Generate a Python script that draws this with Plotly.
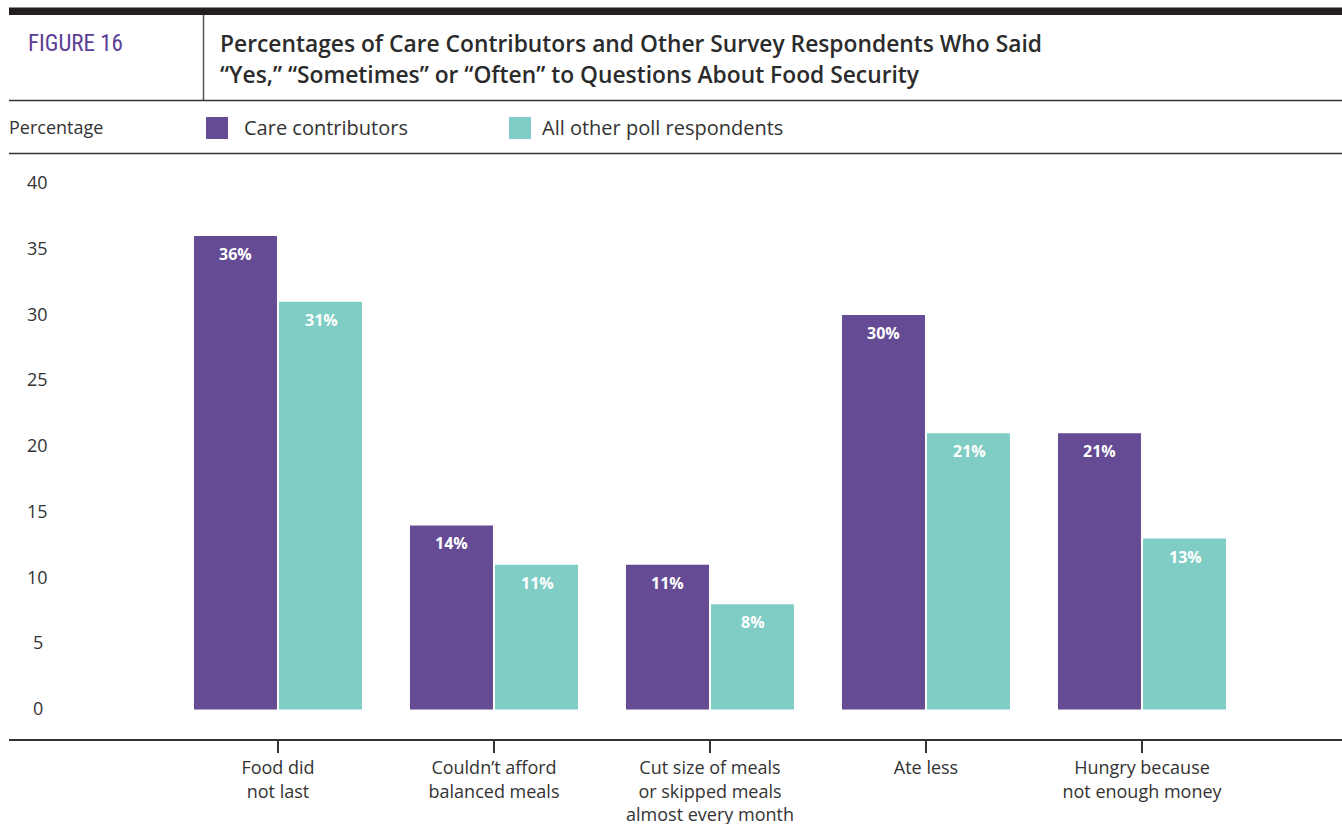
import plotly.graph_objects as go

categories = ["Food did<br>not last", "Couldn’t afford<br>balanced meals",
              "Cut size of meals<br>or skipped meals<br>almost every month",
              "Ate less", "Hungry because<br>not enough money"]
care_contributors = [36, 14, 11, 30, 21]
other_respondents = [31, 11, 8, 21, 13]
y_ticks = [0, 5, 10, 15, 20, 25, 30, 35, 40]
series_names = ["Care contributors", "All other poll respondents"]
title_lines = ["Percentages of Care Contributors and Other Survey Respondents Who Said",
               "“Yes,” “Sometimes” or “Often” to Questions About Food Security"]

PURPLE = "#654A94"
TEAL = "#80CDC5"
TXT = "#333333"
FONT = "'Open Sans', sans-serif"

W, H = 1342, 824
L, R = 9, 0
PLOT_TOP, PLOT_BOTTOM = 153, 739  # screen pixels
T = PLOT_TOP
B = H - PLOT_BOTTOM
PW, PH = W - L - R, H - T - B


def px(x):
    return (x - L) / PW


def py(y):
    return (PLOT_BOTTOM - y) / PH


# axis geometry in screen pixels
cat_step = 216.0
x0_px = 278.0
xr = [(L - x0_px) / cat_step, (W - R - x0_px) / cat_step]
y0_px = 709.5
unit = 13.15
yr = [(y0_px - PLOT_BOTTOM) / unit, (y0_px - PLOT_TOP) / unit]

xs = list(range(len(categories)))
fig = go.Figure()
fig.add_trace(go.Bar(x=xs, y=care_contributors, name=series_names[0],
                     marker=dict(color=PURPLE, line=dict(width=0)), showlegend=False))
fig.add_trace(go.Bar(x=xs, y=other_respondents, name=series_names[1],
                     marker=dict(color=TEAL, line=dict(width=0)), showlegend=False))

annotations = []
off = 43 / cat_step
for i, (a, b) in enumerate(zip(care_contributors, other_respondents)):
    for xv, v in ((i - off, a), (i + off, b)):
        annotations.append(dict(x=xv, y=v, xref="x", yref="y", text=f"<b>{v}%</b>",
                                showarrow=False, yshift=-18, yanchor="middle",
                                font=dict(family=FONT, size=16, color="white")))

for t in y_ticks:
    annotations.append(dict(x=px(37.5), y=t, xref="paper", yref="y", text=str(t),
                            showarrow=False, xanchor="center", yanchor="middle", yshift=1.5,
                            font=dict(family=FONT, size=18, color=TXT)))

# header texts
annotations.append(dict(x=px(26), y=py(43), xref="paper", yref="paper", text="FIGURE 16",
                        showarrow=False, xanchor="left", yanchor="middle",
                        font=dict(family="'Liberation Sans Narrow', 'Roboto Condensed', Roboto, sans-serif",
                                  size=23, color="#5B3E96")))
for k, line in enumerate(title_lines):
    annotations.append(dict(x=px(218), y=py(43 + 31 * k), xref="paper", yref="paper",
                            text=line, showarrow=False, xanchor="left", yanchor="middle",
                            font=dict(family=FONT, size=22.8, weight=600, color="#2b2b2b")))
annotations.append(dict(x=px(7), y=py(127), xref="paper", yref="paper", text="Percentage",
                        showarrow=False, xanchor="left", yanchor="middle",
                        font=dict(family=FONT, size=18, color=TXT)))
annotations.append(dict(x=px(242), y=py(127), xref="paper", yref="paper", text=series_names[0],
                        showarrow=False, xanchor="left", yanchor="middle",
                        font=dict(family=FONT, size=20, color=TXT)))
annotations.append(dict(x=px(540), y=py(127), xref="paper", yref="paper", text=series_names[1],
                        showarrow=False, xanchor="left", yanchor="middle",
                        font=dict(family=FONT, size=20, color=TXT)))

shapes = [
    dict(type="rect", xref="paper", yref="paper", x0=px(9), x1=px(1342), y0=py(15), y1=py(7.5),
         fillcolor="#231F20", line=dict(width=0)),
    dict(type="line", xref="paper", yref="paper", x0=px(203.5), x1=px(203.5), y0=py(15), y1=py(100),
         line=dict(color="#555555", width=1.5)),
    dict(type="line", xref="paper", yref="paper", x0=px(9), x1=px(1342), y0=py(100.5), y1=py(100.5),
         line=dict(color="#333333", width=1.5)),
    dict(type="line", xref="paper", yref="paper", x0=px(9), x1=px(1342), y0=py(153.5), y1=py(153.5),
         line=dict(color="#333333", width=1.5)),
    dict(type="rect", xref="paper", yref="paper", x0=px(206), x1=px(228), y0=py(139), y1=py(117),
         fillcolor=PURPLE, line=dict(width=0)),
    dict(type="rect", xref="paper", yref="paper", x0=px(509), x1=px(531), y0=py(139), y1=py(117),
         fillcolor=TEAL, line=dict(width=0)),
]

fig.update_layout(
    width=W, height=H,
    margin=dict(l=L, r=R, t=T, b=B, pad=0),
    paper_bgcolor="white", plot_bgcolor="white",
    barmode="group", bargap=0.213, bargroupgap=0.024,
    hovermode=False,
    xaxis=dict(range=xr, tickmode="array", tickvals=xs, ticktext=categories,
               showline=True, linecolor="#333333", linewidth=1.5,
               ticks="outside", ticklen=12, tickwidth=2, tickcolor="#333333",
               ticklabelstandoff=0, automargin=False,
               showgrid=False, zeroline=False, fixedrange=True,
               tickfont=dict(family=FONT, size=18, color=TXT)),
    yaxis=dict(range=yr, showticklabels=False, showgrid=False, zeroline=False,
               showline=False, fixedrange=True, automargin=False),
    annotations=annotations, shapes=shapes,
    font=dict(family=FONT, color=TXT),
)

fig.write_html("out.html", config={"displayModeBar": False},
               post_script="document.body.style.margin='0';"
                           "document.documentElement.style.overflow='hidden';"
                           "document.body.style.overflow='hidden';")
